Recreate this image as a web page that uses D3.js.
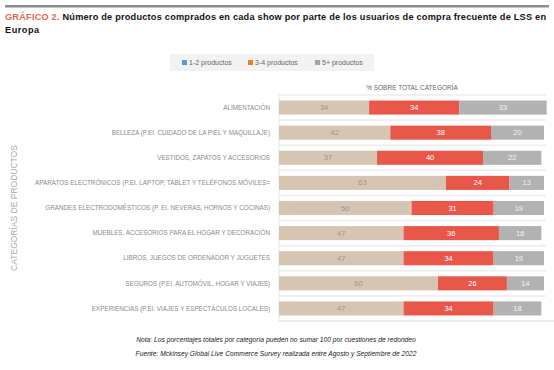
<!DOCTYPE html>
<html>
<head>
<meta charset="utf-8">
<script src="https://cdn.jsdelivr.net/npm/d3@7"></script>
<style>
  body { margin: 0; background: #fff; }
  svg { display: block; font-family: "Liberation Sans", Arial, sans-serif; }
</style>
</head>
<body>
<script>
"use strict";

const categories = [
  "ALIMENTACIÓN",
  "BELLEZA (P.EI. CUIDADO DE LA PIEL Y MAQUILLAJE)",
  "VESTIDOS, ZAPATOS Y ACCESORIOS",
  "APARATOS ELECTRÓNICOS (P.EI. LAPTOP, TABLET Y TELÉFONOS MÓVILES=",
  "GRANDES ELECTRODOMÉSTICOS (P. EI. NEVERAS, HORNOS Y COCINAS)",
  "MUEBLES, ACCESORIOS PARA EL HOGAR Y DECORACIÓN",
  "LIBROS, JUEGOS DE ORDENADOR Y JUGUETES",
  "SEGUROS (P.EI. AUTOMÓVIL, HOGAR Y VIAJES)",
  "EXPERIENCIAS (P.EI. VIAJES Y ESPECTÁCULOS LOCALES)"
];
const seriesNames = ["1-2 productos", "3-4 productos", "5+ productos"];
const uno_dos = [34, 42, 37, 63, 50, 47, 47, 60, 47];
const tres_cuatro = [34, 38, 40, 24, 31, 36, 34, 26, 34];
const cinco_mas = [33, 20, 22, 13, 19, 16, 19, 14, 18];

const barColors = ["#d6c5b2", "#e9574a", "#b2b2b2"];
const labelColors = ["#9a9590", "#ffffff", "#f4f4f4"];
const legendColors = ["#5b9bd5", "#ed7d31", "#a5a5a5"];

let svg = d3.select("body").append("svg")
  .attr("width", 554)
  .attr("height", 370);

// top rule + title
svg.append("rect")
  .attr("x", 5).attr("y", 5).attr("width", 544).attr("height", 2.5)
  .attr("fill", "#8c8c8c");

let title = svg.append("text")
  .attr("x", 5).attr("y", 20)
  .attr("font-size", 9.2).attr("font-weight", "bold").attr("fill", "#111")
  .attr("textLength", 541).attr("lengthAdjust", "spacing");
title.append("tspan").attr("fill", "#f0654c").text("GRÁFICO 2. ");
title.append("tspan").text("Número de productos comprados en cada show por parte de los usuarios de compra frecuente de LSS en");
svg.append("text")
  .attr("x", 5).attr("y", 33)
  .attr("font-size", 9.2).attr("font-weight", "bold").attr("fill", "#111")
  .attr("letter-spacing", 0.5)
  .text("Europa");

// legend
let legend = svg.append("g");
legend.append("rect")
  .attr("x", 170).attr("y", 54).attr("width", 204).attr("height", 17)
  .attr("fill", "#f2f2f2");
const legendX = [182, 248, 315];
seriesNames.forEach((name, i) => {
  legend.append("rect")
    .attr("x", legendX[i]).attr("y", 60).attr("width", 5).attr("height", 5)
    .attr("fill", legendColors[i]);
  legend.append("text")
    .attr("x", legendX[i] + 7).attr("y", 65)
    .attr("font-size", 7).attr("fill", "#666")
    .text(name);
});

svg.append("text")
  .attr("x", 412).attr("y", 90)
  .attr("text-anchor", "middle")
  .attr("font-size", 6.5).attr("fill", "#666")
  .text("% SOBRE TOTAL CATEGORÍA");

// scales
const x = d3.scaleLinear().domain([0, 100]).range([279, 544]);
const y = d3.scaleBand().domain(categories).range([95, 321])
  .paddingInner(0.44).paddingOuter(0.22);

// panel
let panel = svg.append("g");
categories.forEach((c, i) => {
  let yy = y(c) - y.step() * 0.22;
  panel.append("line")
    .attr("x1", 279).attr("x2", 546).attr("y1", yy).attr("y2", yy)
    .attr("stroke", "#ececec").attr("stroke-width", 1.5);
});
panel.append("line")
  .attr("x1", 279).attr("x2", 554).attr("y1", 321).attr("y2", 321)
  .attr("stroke", "#e3e3e3").attr("stroke-width", 1.5);
panel.append("line")
  .attr("x1", 279).attr("x2", 279).attr("y1", 93).attr("y2", 321)
  .attr("stroke", "#e6e6e6");

// stacked bars
const rows = categories.map((c, i) => ({
  cat: c, "1-2 productos": uno_dos[i], "3-4 productos": tres_cuatro[i], "5+ productos": cinco_mas[i]
}));
const stack = d3.stack().keys(seriesNames)(rows);

let bars = svg.append("g");
stack.forEach((layer, k) => {
  let g = bars.append("g");
  g.selectAll("rect")
    .data(layer)
    .enter()
    .append("rect")
    .attr("x", d => x(d[0]))
    .attr("y", d => y(d.data.cat))
    .attr("width", d => x(d[1]) - x(d[0]))
    .attr("height", y.bandwidth())
    .attr("fill", barColors[k]);
  g.selectAll("text")
    .data(layer)
    .enter()
    .append("text")
    .attr("x", d => x((d[0] + d[1]) / 2))
    .attr("y", d => y(d.data.cat) + y.bandwidth() / 2 + 2.6)
    .attr("text-anchor", "middle")
    .attr("font-size", 7.5)
    .attr("fill", labelColors[k])
    .text(d => d[1] - d[0]);
});

// category labels
svg.append("g").selectAll("text")
  .data(categories)
  .enter()
  .append("text")
  .attr("x", 270)
  .attr("y", d => y(d) + y.bandwidth() / 2 + 2.2)
  .attr("text-anchor", "end")
  .attr("font-size", 6.3)
  .attr("fill", "#8a8a8a")
  .attr("textLength", function(d) { return d.length > 60 ? 235 : null; })
  .text(d => d);

svg.append("text")
  .attr("transform", "translate(17,208) rotate(-90)")
  .attr("text-anchor", "middle")
  .attr("font-size", 8.5).attr("fill", "#a8a8a8")
  .text("CATEGORÍAS DE PRODUCTOS");

// notes
svg.append("text")
  .attr("x", 276).attr("y", 342)
  .attr("text-anchor", "middle")
  .attr("font-size", 6.7).attr("font-style", "italic").attr("fill", "#222")
  .text("Nota: Los porcentajes totales por categoría pueden no sumar 100 por cuestiones de redondeo");
svg.append("text")
  .attr("x", 276).attr("y", 356)
  .attr("text-anchor", "middle")
  .attr("font-size", 6.7).attr("font-style", "italic").attr("fill", "#222")
  .text("Fuente: Mckinsey Global Live Commerce Survey realizada entre Agosto y Septiembre de 2022");
</script>
</body>
</html>
